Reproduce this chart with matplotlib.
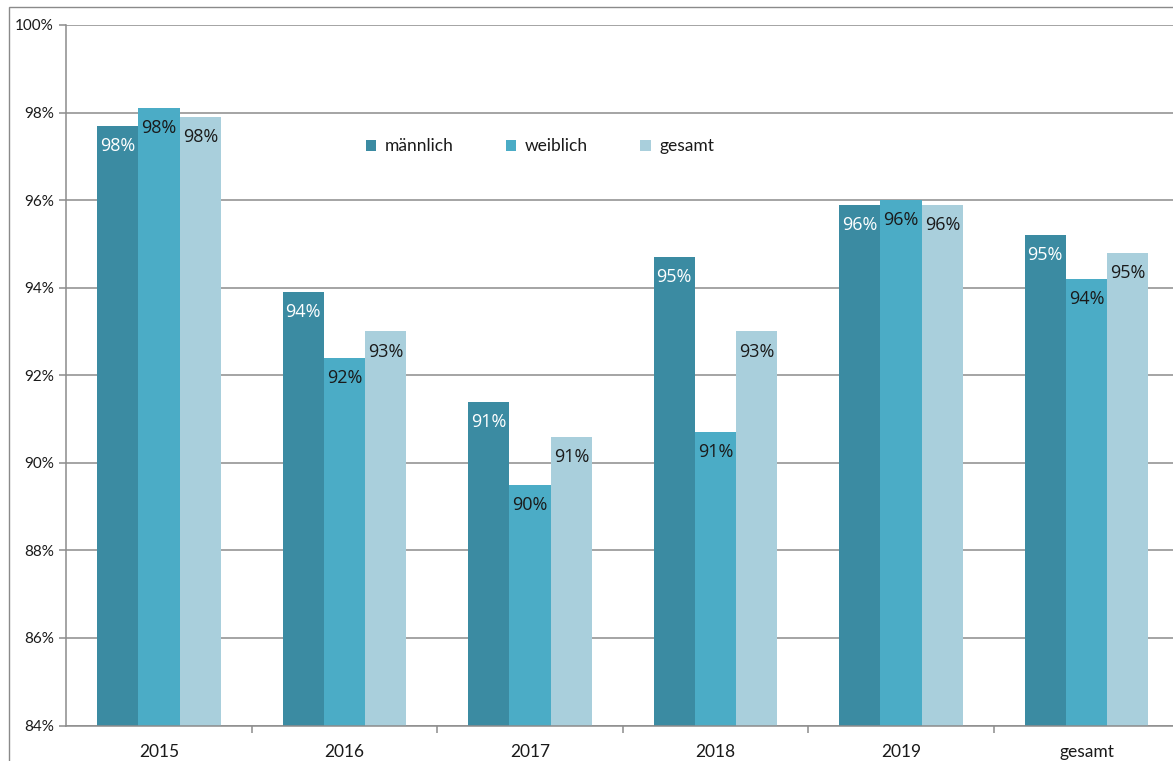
import matplotlib
matplotlib.use("Agg")
import matplotlib.pyplot as plt
import numpy as np
from matplotlib.patches import Rectangle
from matplotlib.ticker import FixedLocator, PercentFormatter

categories = ["2015", "2016", "2017", "2018", "2019", "gesamt"]
series_names = ["männlich", "weiblich", "gesamt"]
maennlich = [97.7, 93.9, 91.4, 94.7, 95.9, 95.2]
weiblich = [98.1, 92.4, 89.5, 90.7, 96.0, 94.2]
gesamt = [97.9, 93.0, 90.6, 93.0, 95.9, 94.8]
y_ticks = [84, 86, 88, 90, 92, 94, 96, 98, 100]

colors = ["#3B8BA2", "#4BACC6", "#A9CFDC"]
label_colors = ["white", "#1a1a1a", "#1a1a1a"]

W, H = 1173, 761
fig = plt.figure(figsize=(W / 100, H / 100), dpi=100)
fig.patch.set_facecolor("white")

# outer chart border
fig.add_artist(Rectangle((8.5 / W, -0.05), 1.1, 1 - 7.5 / H + 0.05,
                         transform=fig.transFigure, fill=False,
                         edgecolor="#8a8a8a", linewidth=1.0))

left, right = 66.3, 66.3 + 6 * 185.5
bottom, top = 725.5, 25.0
ax = fig.add_axes([left / W, 1 - bottom / H, (right - left) / W, (bottom - top) / H])

x = np.arange(len(categories))
bw = 0.2225
all_series = [maennlich, weiblich, gesamt]
for i, (vals, name) in enumerate(zip(all_series, series_names)):
    pos = x + (i - 1) * bw
    ax.bar(pos, np.array(vals) - 84, bottom=84, width=bw, color=colors[i],
           label=name, zorder=3)
    for xp, v in zip(pos, vals):
        ax.annotate(f"{v:.0f}%", (xp, v), xytext=(0, -8), textcoords="offset points",
                    ha="center", va="top", fontsize=13, color=label_colors[i],
                    family="Open Sans", zorder=4)

ax.set_xlim(-0.5, 5.5)
ax.set_ylim(84, 100)
ax.yaxis.set_major_locator(FixedLocator(y_ticks))
ax.yaxis.set_major_formatter(PercentFormatter(decimals=0))
ax.grid(axis="y", color="#8c8c8c", linewidth=1.1, zorder=0)
ax.set_axisbelow(True)

for s in ["top", "right"]:
    ax.spines[s].set_visible(False)
for s in ["left", "bottom"]:
    ax.spines[s].set_color("#8c8c8c")
    ax.spines[s].set_linewidth(1.1)
    ax.spines[s].set_zorder(5)

ax.set_xticks(x)
ax.set_xticklabels(categories, fontsize=12.5, family="Lato", color="#1a1a1a")
ax.tick_params(axis="x", which="major", length=0, pad=13)
ax.set_xticks(np.arange(0.5, 5.5, 1.0), minor=True)
ax.tick_params(axis="x", which="minor", length=5, color="#8c8c8c", width=1.1)
ax.tick_params(axis="y", length=5, color="#8c8c8c", width=1.1, pad=4,
               labelsize=11, labelcolor="#1a1a1a")
for lab in ax.get_yticklabels():
    lab.set_family("Lato")

leg = ax.legend(loc="center", bbox_to_anchor=(0.4256, 0.827), ncol=3, frameon=False,
                prop={"family": "Lato", "size": 12.5}, handlelength=0.6,
                handleheight=0.6, handletextpad=0.5, columnspacing=3.0)
for t in leg.get_texts():
    t.set_color("#1a1a1a")

fig.savefig("out.png", dpi=100)
